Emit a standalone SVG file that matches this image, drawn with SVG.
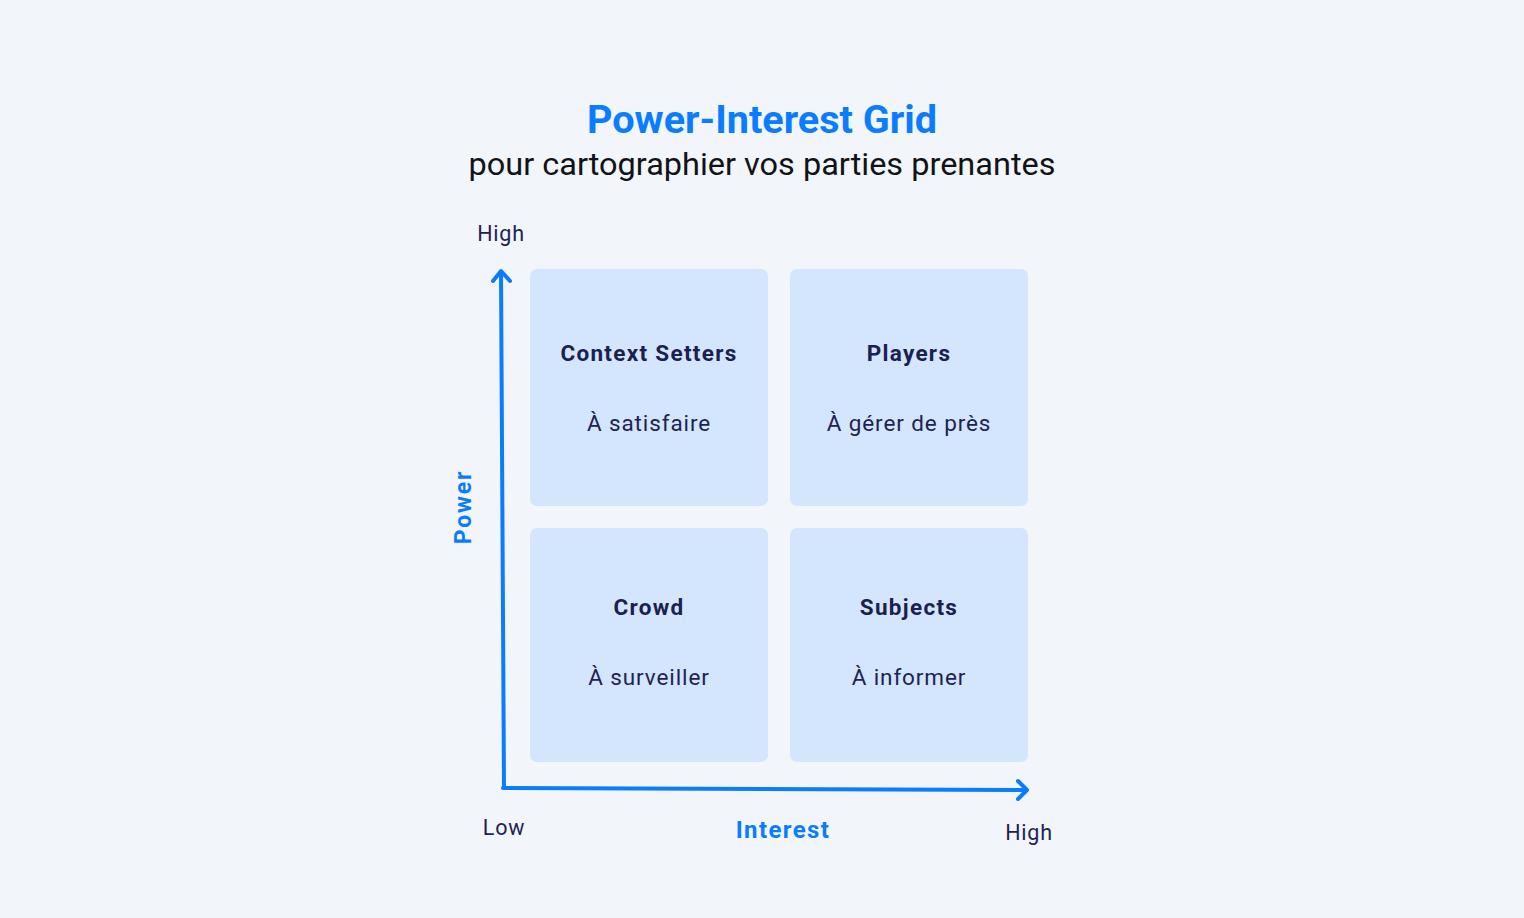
<svg xmlns="http://www.w3.org/2000/svg" width="1524" height="918" viewBox="0 0 1524 918">
<style>
.box{fill:#d3e6fd}
.t{font-family:Roboto,"Liberation Sans",sans-serif;text-anchor:middle}
.h{font-weight:700;font-size:22.5px;fill:#1a2150;letter-spacing:1.3px}
.s{font-size:22.5px;fill:#1e2352;letter-spacing:0.9px}
.ax{font-size:21.5px;fill:#1e2352;letter-spacing:0.8px}
.blue{fill:#0a7cff;font-weight:700}
.axis{fill:none;stroke:#0a7cff;stroke-width:4;stroke-linecap:round;stroke-linejoin:round}
</style>
<rect width="1524" height="918" fill="#f2f6fa"/>
<text class="t blue" x="762" y="133" font-size="38" textLength="350" lengthAdjust="spacingAndGlyphs">Power-Interest Grid</text>
<text class="t" x="762" y="175" font-size="32" fill="#111318" textLength="587" lengthAdjust="spacingAndGlyphs">pour cartographier vos parties prenantes</text>
<g id="connectors">
<path class="axis" d="M504 788 L501 272"/>
<path class="axis" d="M493 281 L501 271 L510 281"/>
<path class="axis" d="M503 788 L1026 790"/>
<path class="axis" d="M1018 781 L1027 790 L1018 799"/>
</g>
<g id="context-setters">
<rect class="box" x="530" y="269" width="238" height="237" rx="7"/>
<text class="t h" x="649" y="361">Context Setters</text>
<text class="t s" x="649" y="431">À satisfaire</text>
</g>
<g id="players">
<rect class="box" x="790" y="269" width="238" height="237" rx="7"/>
<text class="t h" x="909" y="361">Players</text>
<text class="t s" x="909" y="431">À gérer de près</text>
</g>
<g id="crowd">
<rect class="box" x="530" y="528" width="238" height="234" rx="7"/>
<text class="t h" x="649" y="615">Crowd</text>
<text class="t s" x="649" y="685">À surveiller</text>
</g>
<g id="subjects">
<rect class="box" x="790" y="528" width="238" height="234" rx="7"/>
<text class="t h" x="909" y="615">Subjects</text>
<text class="t s" x="909" y="685">À informer</text>
</g>
<g id="labels">
<text class="t ax" x="501" y="241">High</text>
<text class="t blue" x="0" y="0" font-size="23" letter-spacing="1.8" transform="translate(471 507) rotate(-90)">Power</text>
<text class="t ax" x="504" y="835">Low</text>
<text class="t blue" x="783" y="838" font-size="24" letter-spacing="1.4">Interest</text>
<text class="t ax" x="1029" y="840">High</text>
</g>
</svg>
